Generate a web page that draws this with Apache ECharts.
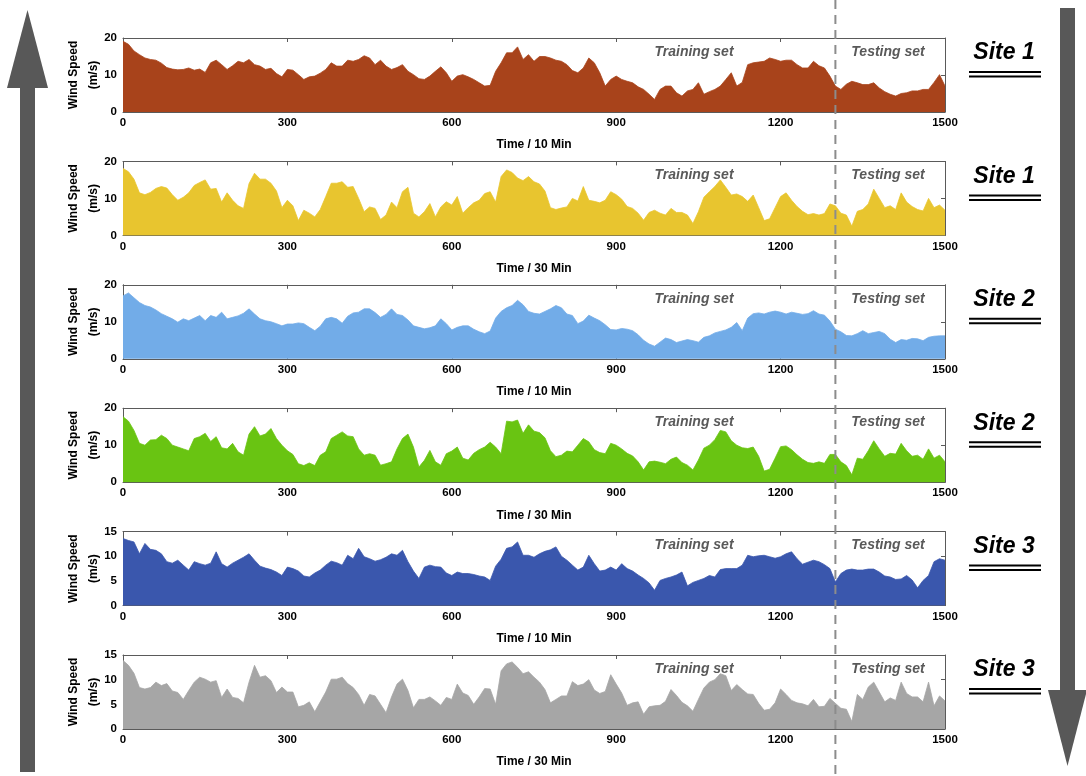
<!DOCTYPE html>
<html>
<head>
<meta charset="utf-8">
<script src="https://cdn.jsdelivr.net/npm/echarts@6/dist/echarts.min.js"></script>
<style>
  html, body { margin: 0; padding: 0; background: #fff; }
  #chart { width: 1086px; height: 776px; }
</style>
</head>
<body>
<div id="chart"></div>
<script>
// Time axis: one sample every 10 steps, 0 … 1500
const timeSteps = Array.from({ length: 151 }, (_, i) => i * 10);
const xTicks = [0, 300, 600, 900, 1200, 1500];
const splitPoint = 1300;            // boundary between training and testing data

const panelTitles = ['Site 1', 'Site 1', 'Site 2', 'Site 2', 'Site 3', 'Site 3'];
const panelUnits = ['Time / 10 Min', 'Time / 30 Min', 'Time / 10 Min', 'Time / 30 Min', 'Time / 10 Min', 'Time / 30 Min'];
const panelYMax = [20, 20, 20, 20, 15, 15];
const panelYStep = [10, 10, 10, 10, 5, 5];

// Wind speed (m/s)
const site1Min10 = [
  19.1, 18.3, 16.5, 15.5, 14.6, 14.2, 14, 13.2, 12, 11.6,
  11.4, 11.5, 11.9, 11.3, 11.6, 10.7, 13.3, 14, 12.8, 11.5,
  12.5, 13.7, 13.3, 14.2, 12.8, 12.4, 11.5, 11.8, 10.4, 9.5,
  11.5, 11.3, 10.1, 8.8, 9.5, 9.7, 10.5, 11.5, 13.3, 12.4,
  12.4, 14, 13.7, 14.2, 15.2, 14.6, 12.8, 14, 12.4, 11.5,
  12, 12.8, 11, 10.1, 9, 8.8, 9.7, 11, 12.2, 10.6,
  8.3, 9.7, 10.1, 9.5, 8.8, 7.9, 7, 7.2, 11, 13.3,
  16, 16, 17.6, 14.2, 15.5, 13.7, 15, 15, 14.6, 14,
  13.7, 12.8, 11.2, 10.6, 11.9, 14.6, 13.3, 10.6, 7, 8.8,
  9.7, 8.8, 8.3, 7.9, 6.8, 6.1, 4.8, 3.4, 6.1, 7,
  7, 5.2, 4.3, 5.7, 6.1, 7.9, 4.8, 5.5, 6.1, 7,
  8.8, 10.6, 7, 8, 12.8, 13.3, 13.5, 13.7, 14.6, 14.2,
  13.7, 14, 14, 12.8, 11.9, 11.9, 13.7, 12.5, 11.9, 9.7,
  7, 6.1, 7.5, 8.3, 7.9, 7.4, 7.4, 7.9, 6.5, 5.5,
  4.8, 4.3, 5, 5.2, 5.7, 5.7, 6.1, 6.1, 8, 10.1, 7
];
const site1Min30 = [
  18.1, 17.2, 15.2, 11.5, 11, 11.6, 12.7, 13.2, 12.8, 11,
  9.5, 10.3, 11.5, 13.5, 14.3, 15, 12.5, 12.7, 9, 11.5,
  9.5, 8, 7.3, 14, 16.8, 15.2, 15.2, 14.1, 12, 7.5,
  9.5, 8, 4, 6.8, 6, 5, 7, 10.5, 14.1, 14.1,
  14.5, 13, 13.2, 10, 6.4, 7.7, 7.3, 4.3, 5.5, 9,
  7.5, 11.8, 13, 6, 5, 6.4, 8.6, 5, 7.7, 9.1,
  8.2, 10.5, 6, 7.5, 8.8, 9.5, 11.3, 11.8, 9, 15.9,
  17.7, 17, 15.5, 14.8, 15.9, 14.5, 13.9, 12, 7.5, 7,
  7.4, 7.7, 10, 9.3, 13.2, 9.5, 9.2, 8.8, 9.5, 11.8,
  11, 9.8, 7.8, 7.3, 6, 4.1, 6.2, 6.8, 6, 5.5,
  7.3, 6.2, 6.2, 5.5, 3.2, 6.4, 10.3, 11.8, 13.2, 15,
  13, 10.9, 11.2, 10.5, 9.2, 10.9, 7.5, 4, 4.5, 7.5,
  10.5, 11.5, 9.5, 7.8, 6.5, 5.6, 5.9, 5.5, 5.9, 8.5,
  8, 6, 5.5, 2.5, 6.5, 7, 8.5, 12.5, 10, 7.5,
  8, 7, 11.5, 9, 7.8, 7, 6.6, 10, 7.5, 8.2, 6.8
];
const site2Min10 = [
  17, 17.8, 16.5, 15.2, 14.4, 14, 13.2, 12.2, 11.5, 10.8,
  9.9, 10.8, 10.3, 11, 11.7, 10.3, 11.7, 11.2, 12.6, 10.8,
  11.2, 11.6, 12.3, 13.5, 12.1, 10.8, 10.3, 10, 9.5, 8.9,
  9.4, 9.4, 9.7, 9.5, 8.5, 7.6, 8.8, 10.8, 11.2, 10.8,
  9.6, 11.5, 12.4, 12.6, 13.5, 13.5, 12.5, 11.2, 12, 13.5,
  12, 11.7, 10.5, 8.9, 8.5, 8.1, 8.4, 8.9, 10.8, 9.5,
  7.8, 8.5, 8.9, 8.9, 8, 7.3, 6.8, 7.5, 11, 12.8,
  13.8, 14.4, 15.8, 14.6, 12.8, 12.3, 12.1, 12.8, 13.5, 14.4,
  13.8, 12.1, 11.7, 9.5, 10.2, 11.8, 11, 10.3, 9.2, 7.9,
  7.8, 8.2, 8, 7.6, 6.5, 5, 4, 3.4, 4.5, 5.6,
  5.2, 4.4, 4.8, 5.2, 4.9, 4.5, 5.8, 6.2, 7, 7.4,
  7.8, 8.5, 9.8, 7.6, 11, 12.2, 12.4, 12.1, 12.6, 12.9,
  12.6, 12.1, 12.6, 12.3, 12, 12.2, 13, 12.1, 11.8, 10.2,
  8, 7.3, 6.3, 6.2, 6.8, 7.6, 6.8, 7.1, 7.4, 6.8,
  5.3, 4.4, 5.2, 5, 5.5, 5.4, 4.9, 5.8, 6.1, 6.2, 6.2
];
const site2Min30 = [
  17.7, 16.5, 14, 10.5, 10, 11.4, 11.5, 12.7, 11.8, 10,
  9.5, 9, 8.5, 11.8, 12.3, 13.2, 11, 12.3, 9.3, 9,
  10.5, 8.2, 7.3, 13, 15, 12.5, 13, 14.5, 11.8, 10,
  8.5, 7.5, 5, 4.5, 5.2, 4.5, 7.3, 8.2, 11.8, 12.7,
  13.6, 12.5, 12.3, 9, 7.3, 7.7, 7.3, 4.6, 5, 5.5,
  9, 11.8, 13, 9.5, 4.1, 5.9, 8.6, 5.5, 4.6, 7.7,
  8.4, 9.5, 6.5, 6, 7.8, 8.8, 9.5, 10.8, 9.5, 7.7,
  16.5, 16.3, 16.8, 13.2, 15.5, 13.8, 13.4, 12, 8.5, 6.9,
  7.3, 8.4, 8.2, 10, 11.8, 10.9, 8.8, 8, 7.7, 10.5,
  10, 9, 7.8, 7.1, 5.5, 3.3, 5.5, 5.7, 5.4, 5,
  6.2, 6.8, 5.3, 4.6, 3.3, 6, 9.2, 10, 11.5, 14,
  13.6, 11.2, 10, 9.3, 9.1, 9.5, 7, 3, 3.5, 6.5,
  9.6, 9.8, 8.8, 7.4, 6.2, 5.3, 5.1, 5.5, 5.1, 7.5,
  7.5, 5.5, 4.5, 2, 6.5, 6.2, 8.5, 11.2, 9, 7,
  7.8, 7.6, 10.5, 8.5, 7, 7.3, 6.2, 9, 6.5, 7.3, 5.5
];
const site3Min10 = [
  13.6, 13.2, 12.9, 10.5, 12.6, 11.4, 11.2, 10.5, 8.9, 8.6,
  9.2, 8.2, 7.2, 8.9, 8.5, 8.2, 8.6, 10.9, 8.5, 7.8,
  8.6, 9.2, 9.8, 10.5, 9.2, 8, 7.6, 7.3, 6.8, 6.1,
  7.8, 7.5, 7, 6, 5.8, 6.6, 7.2, 8.2, 9, 8.7,
  8.2, 10.2, 9.5, 11.6, 9.9, 9.5, 9, 9.3, 9.8, 10.5,
  10.2, 11.2, 8.9, 7, 5.5, 7.8, 8.2, 7.9, 7.8, 6.6,
  6.1, 6.8, 6.5, 6.5, 6.3, 6, 5.8, 5.1, 8, 9.4,
  11.6, 11.9, 12.9, 10.2, 10.2, 9.8, 10.5, 11, 11.3, 11.9,
  10, 9.2, 8.2, 7.2, 7.8, 10.2, 8.5, 7, 7.2, 7.8,
  7.2, 8.5, 7.5, 7, 6.2, 5.5, 4.6, 3.1, 5.1, 5.5,
  5.8, 6.2, 6.8, 4, 4.7, 5.1, 5.5, 6.1, 5.8, 7.3,
  7.5, 7.5, 7.5, 8.2, 10.2, 9.9, 10.1, 10.2, 9.9, 9.6,
  9.9, 10.5, 10.9, 9.5, 8.4, 8.8, 9.2, 8.9, 8.3, 7.5,
  4.8, 6.5, 7.2, 7.4, 7.2, 7.2, 7.4, 7.4, 6.8, 6,
  5.8, 5.3, 5.4, 6.1, 5.2, 3.6, 5.1, 6.1, 8.9, 9.5, 9.2
];
const site3Min30 = [
  13.9, 12.9, 11.3, 8.4, 8.1, 8.4, 9.5, 8.8, 9.2, 7.7,
  7.4, 6, 7.8, 9.5, 10.5, 10.1, 9.5, 9.8, 6.4, 8.1,
  6.4, 6.2, 5.3, 9.5, 12.9, 10.5, 10.8, 9.8, 7.4, 8.5,
  7.5, 7.5, 4.5, 4.8, 5.5, 3.5, 5.5, 7.5, 10.1, 10.1,
  10.5, 9.2, 8.4, 7, 4.8, 7, 6.7, 5, 3.3, 6.5,
  9.1, 10.1, 7.8, 4.3, 6, 6, 6.5, 5.7, 4.8, 6.4,
  6, 9.1, 7.3, 6.8, 5, 6.5, 8.2, 8.1, 5, 11.8,
  13.2, 13.6, 12.5, 11.2, 11.6, 10.5, 9.5, 8, 5.3, 6,
  6.7, 6.7, 9.6, 8.8, 9.1, 10, 7.9, 7.2, 7.6, 11,
  9.1, 7.3, 4.8, 5.3, 5.5, 3, 4.5, 4.7, 4.8, 5.6,
  8, 6.8, 5.4, 4.7, 3.6, 6, 8.3, 9.5, 10, 11.2,
  10.8, 7.8, 9, 8, 7.1, 7, 5.2, 3.8, 4, 5.3,
  8.1, 7, 5.8, 5.3, 5.1, 4.7, 6, 4.5, 4.6, 6.2,
  5.2, 4.2, 4, 1.5, 7, 6, 8.5, 9.5, 7.5, 5.5,
  6.3, 5.8, 9.5, 7.2, 6.5, 6.5, 5.5, 9.5, 4.7, 6.7, 5.7
];

const panelSeries = [site1Min10, site1Min30, site2Min10, site2Min30, site3Min10, site3Min30];
const panelColors = ['#a8431b', '#e8c52f', '#72ace8', '#69c412', '#3a57ad', '#a6a6a6'];

// Layout of the six stacked panels
const plotLeft = 123, plotWidth = 822, plotHeight = 74;
const firstTop = 38, panelPitch = 123.4;
const axisColor = '#5a5a5a';
const fontFamily = '"Liberation Sans", Arial, sans-serif';
const plainNumber = v => String(v);

const grids = [], xAxes = [], yAxes = [], series = [];
panelSeries.forEach((values, i) => {
  const top = firstTop + i * panelPitch;
  grids.push({ left: plotLeft, top: top, width: plotWidth, height: plotHeight });
  const tickStyle = { show: true, inside: true, length: 4, lineStyle: { color: axisColor } };
  // bottom axis with labels
  xAxes.push({
    type: 'value', gridIndex: i, min: 0, max: 1500, interval: 300, position: 'bottom',
    axisLine: { show: true, onZero: false, lineStyle: { color: axisColor, width: 1 } },
    axisTick: tickStyle,
    axisLabel: { color: '#000', fontWeight: 'bold', fontSize: 11.5, fontFamily, margin: 5, formatter: plainNumber },
    splitLine: { show: false },
    name: panelUnits[i], nameLocation: 'middle', nameGap: 27,
    nameTextStyle: { color: '#000', fontWeight: 'bold', fontSize: 12, fontFamily }
  });
  // top frame axis
  xAxes.push({
    type: 'value', gridIndex: i, min: 0, max: 1500, interval: 300, position: 'top',
    axisLine: { show: true, onZero: false, lineStyle: { color: axisColor, width: 1 } },
    axisTick: tickStyle, axisLabel: { show: false }, splitLine: { show: false }
  });
  yAxes.push({
    type: 'value', gridIndex: i, min: 0, max: panelYMax[i], interval: panelYStep[i], position: 'left',
    axisLine: { show: true, onZero: false, lineStyle: { color: axisColor, width: 1 } },
    axisTick: tickStyle,
    axisLabel: { color: '#000', fontWeight: 'bold', fontSize: 11.5, fontFamily, margin: 6, formatter: plainNumber },
    splitLine: { show: false },
    name: 'Wind Speed\n(m/s)', nameLocation: 'middle', nameGap: 19, nameRotate: 90, nameMoveOverlap: false,
    nameTextStyle: { color: '#000', fontWeight: 'bold', fontSize: 12, fontFamily, lineHeight: 20 }
  });
  yAxes.push({
    type: 'value', gridIndex: i, min: 0, max: panelYMax[i], interval: panelYStep[i], position: 'right',
    axisLine: { show: true, onZero: false, lineStyle: { color: axisColor, width: 1 } },
    axisTick: tickStyle, axisLabel: { show: false }, splitLine: { show: false }
  });
  series.push({
    type: 'line', xAxisIndex: 2 * i, yAxisIndex: 2 * i,
    data: timeSteps.map((t, k) => [t, values[k]]),
    showSymbol: false, symbol: 'none', animation: false,
    lineStyle: { color: panelColors[i], width: 0.8 },
    areaStyle: { color: panelColors[i], opacity: 1 },
    z: 1
  });
});

const chart = echarts.init(document.getElementById('chart'), null, { renderer: 'canvas' });
chart.setOption({
  animation: false,
  grid: grids, xAxis: xAxes, yAxis: yAxes, series: series
});

// Overlay: split line, set captions, site titles and the two direction arrows
const graphics = [];
const splitX = chart.convertToPixel({ xAxisIndex: 0 }, splitPoint);
const trainX = chart.convertToPixel({ xAxisIndex: 0 }, 1042);
const testX = chart.convertToPixel({ xAxisIndex: 0 }, 1396);

graphics.push({
  type: 'line', z: 100, silent: true,
  shape: { x1: splitX, y1: 0, x2: splitX, y2: 776 },
  style: { stroke: '#8c8c8c', lineWidth: 2, lineDash: [9, 6] }
});

panelTitles.forEach((title, i) => {
  const top = firstTop + i * panelPitch;
  const captionStyle = { fill: '#595959', font: 'italic bold 14px ' + fontFamily, textAlign: 'center', textVerticalAlign: 'middle' };
  graphics.push({ type: 'text', z: 101, style: Object.assign({ x: trainX, y: top + 14, text: 'Training set' }, captionStyle) });
  graphics.push({ type: 'text', z: 101, style: Object.assign({ x: testX, y: top + 14, text: 'Testing set' }, captionStyle) });
  graphics.push({
    type: 'text', z: 101,
    style: { x: 1004, y: top + 15, text: title, fill: '#000', font: 'italic bold 23px ' + fontFamily, textAlign: 'center', textVerticalAlign: 'middle' }
  });
  graphics.push({ type: 'line', z: 101, shape: { x1: 969, y1: top + 34, x2: 1041, y2: top + 34 }, style: { stroke: '#000', lineWidth: 2 } });
  graphics.push({ type: 'line', z: 101, shape: { x1: 969, y1: top + 38.5, x2: 1041, y2: top + 38.5 }, style: { stroke: '#000', lineWidth: 2 } });
});

const arrowColor = '#585858';
// upward arrow on the left
graphics.push({ type: 'rect', z: 50, shape: { x: 20, y: 86, width: 15, height: 686 }, style: { fill: arrowColor } });
graphics.push({ type: 'polygon', z: 50, shape: { points: [[7, 88], [48, 88], [27.5, 10]] }, style: { fill: arrowColor } });
// downward arrow on the right
graphics.push({ type: 'rect', z: 50, shape: { x: 1060, y: 8, width: 15, height: 684 }, style: { fill: arrowColor } });
graphics.push({ type: 'polygon', z: 50, shape: { points: [[1048, 690], [1087, 690], [1067.5, 766]] }, style: { fill: arrowColor } });

chart.setOption({ graphic: graphics });
</script>
</body>
</html>
